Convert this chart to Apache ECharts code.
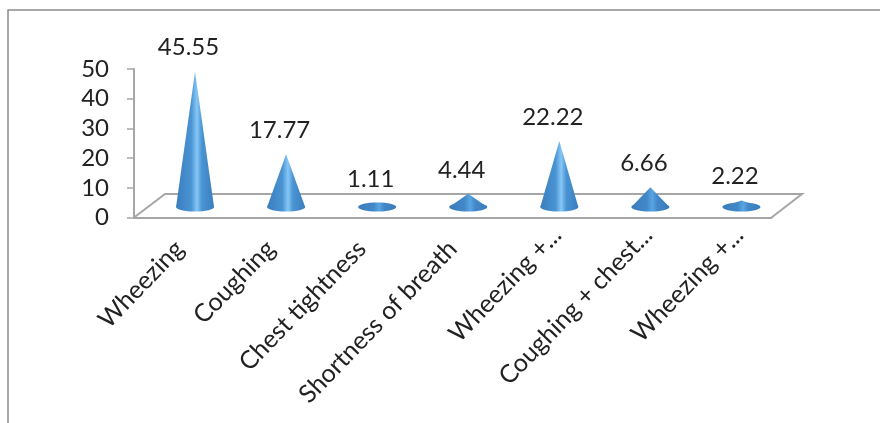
<!DOCTYPE html>
<html>
<head>
<meta charset="utf-8">
<style>
  html, body { margin: 0; padding: 0; background: #fff; }
  #chart { width: 880px; height: 423px; }
</style>
<script src="https://cdn.jsdelivr.net/npm/echarts@6/dist/echarts.min.js"></script>
</head>
<body>
<div id="chart"></div>
<script>
// Reported symptoms, percentage of patients
const categories = ['Wheezing', 'Coughing', 'Chest tightness', 'Shortness of breath', 'Wheezing +...', 'Coughing + chest...', 'Wheezing +...'];
const percentages = [45.55, 17.77, 1.11, 4.44, 22.22, 6.66, 2.22];
const yTicks = { min: 0, max: 50, interval: 10 };

const FONT = 'Lato, "Open Sans", sans-serif';
const AXIS_GREY = '#a6a6a6';
const DEPTH_X = 15.5;      // shift of the cone row into the 3D floor
const DEPTH_Y = -10.5;
const BASE_RX = 19;
const BASE_RY = 4.5;

function sideGradient(edge, mid, glow) {
  return {
    type: 'linear', x: 0, y: 0, x2: 1, y2: 0,
    colorStops: [
      { offset: 0, color: edge },
      { offset: 0.4, color: mid },
      { offset: 0.55, color: glow },
      { offset: 0.68, color: mid },
      { offset: 1, color: edge }
    ]
  };
}
const tallFill = sideGradient('#3a7dbd', '#4a94d4', '#86c8f6');
const shortFill = sideGradient('#3a7cbb', '#4288c8', '#5aa5e2');   // squat cones show almost no highlight

function renderCone(params, api) {
  const cat = api.value(0);
  const val = api.value(1);
  const base = api.coord([cat, 0]);
  const tip = api.coord([cat, val]);
  const cx = base[0] + DEPTH_X;
  const cy = base[1] + DEPTH_Y;
  const ay = tip[1] + DEPTH_Y;
  const fill = val < 10 ? shortFill : tallFill;
  return {
    type: 'group',
    children: [
      { type: 'ellipse', shape: { cx: cx, cy: cy, rx: BASE_RX, ry: BASE_RY }, style: { fill: fill } },
      {
        type: 'polygon',
        shape: { points: [[cx - BASE_RX, cy], [cx, ay], [cx + BASE_RX, cy]] },
        style: { fill: fill }
      },
      {
        type: 'text',
        style: {
          x: cx - 6.5, y: ay - 24,
          text: val.toFixed(2),
          fill: '#222',
          font: '24px ' + FONT,
          align: 'center', verticalAlign: 'middle'
        }
      }
    ]
  };
}

// Truncated names sit further along the slant than the complete ones
const categoryItems = categories.map((name) =>
  name.endsWith('...') ? { value: name, textStyle: { padding: [0, -19, 0, 0] } } : name
);

const chart = echarts.init(document.getElementById('chart'), null, { renderer: 'canvas' });
chart.setOption({
  animation: false,
  backgroundColor: '#fff',
  grid: { left: 134, right: 108.5, top: 69, bottom: 205.5 },
  graphic: [
    // Frame on the top and left edges only
    { type: 'polyline', z: 0, shape: { points: [[8, 423], [8, 10], [880, 10]] },
      style: { fill: null, stroke: '#8c8c8c', lineWidth: 1.5 } },
    // Floor of the 3D plot area
    { type: 'polyline', z: 0, shape: { points: [[134, 217.5], [165, 194], [802, 194], [771.5, 217.5]] },
      style: { fill: null, stroke: AXIS_GREY, lineWidth: 2 } }
  ],
  xAxis: {
    type: 'category',
    data: categoryItems,
    axisLine: { lineStyle: { color: AXIS_GREY, width: 2 } },
    axisTick: { length: 9, lineStyle: { color: AXIS_GREY, width: 1.5 } },
    axisLabel: { interval: 0, rotate: 46, margin: 27, color: '#222', fontSize: 25, fontFamily: FONT }
  },
  yAxis: {
    type: 'value',
    min: yTicks.min, max: yTicks.max, interval: yTicks.interval,
    splitLine: { show: false },
    axisLine: { show: true, lineStyle: { color: AXIS_GREY, width: 2 } },
    axisTick: { show: true, length: 7, lineStyle: { color: AXIS_GREY, width: 1.5 } },
    axisLabel: { margin: 25, color: '#222', fontSize: 24, fontFamily: FONT }
  },
  series: [{
    type: 'custom',
    renderItem: renderCone,
    clip: false,
    encode: { x: 0, y: 1 },
    data: percentages.map((v, i) => [i, v])
  }]
});
</script>
</body>
</html>
